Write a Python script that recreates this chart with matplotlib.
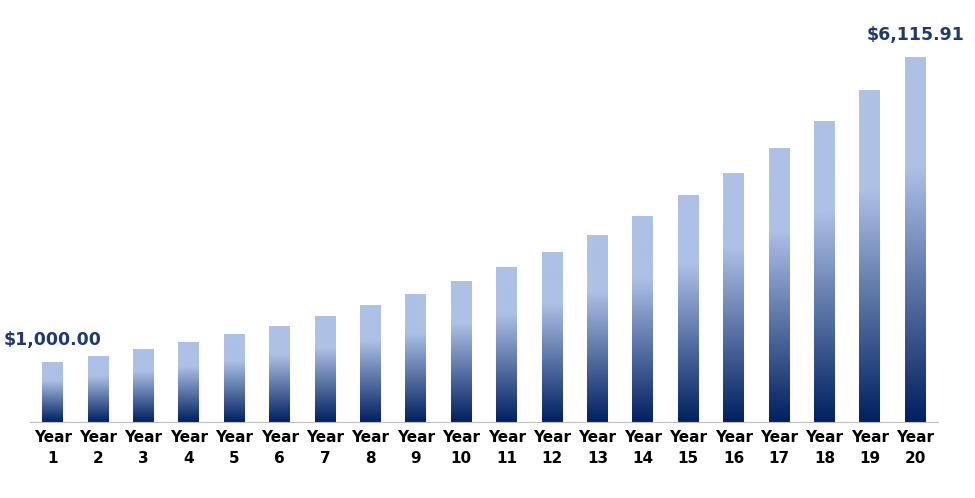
import matplotlib
matplotlib.use("Agg")
import matplotlib.pyplot as plt
import numpy as np
from matplotlib.colors import LinearSegmentedColormap

years = [f"Year\n{i}" for i in range(1, 21)]
values = [1000.00, 1100.00, 1210.00, 1331.00, 1464.10, 1610.51, 1771.56, 1948.72,
          2143.59, 2357.95, 2593.74, 2853.12, 3138.43, 3452.27, 3797.50, 4177.25,
          4594.97, 5054.47, 5559.92, 6115.91]

fig = plt.figure(figsize=(9.75, 4.98), dpi=100)
ax = fig.add_axes([30/975, 76/498, 908/975, 387/498])
cmap = LinearSegmentedColormap.from_list("g", [(0, "#002060"), (0.7, "#adc0e6"), (1, "#adc0e6")])
grad = np.linspace(0, 1, 256).reshape(-1, 1)
w = 0.46
x = np.arange(len(values))
for xi, v in zip(x, values):
    ax.imshow(grad, cmap=cmap, origin="lower", aspect="auto",
              extent=[xi - w/2, xi + w/2, 0, v], zorder=2)
ax.set_xlim(-0.5, len(values) - 0.5)
ax.set_ylim(0, 6500)
ax.set_xticks(x)
ax.set_xticklabels(years, fontsize=11, fontweight="bold", family="DejaVu Sans", linespacing=1.5)
ax.tick_params(axis="x", length=0, pad=6)
ax.set_yticks([])
for s in ["top", "right", "left"]:
    ax.spines[s].set_visible(False)
ax.spines["bottom"].set_color("#bfbfbf")
ax.text(0, values[0] + 230, "$1,000.00", ha="center", va="bottom", fontsize=12.5,
        fontweight="bold", color="#1f3a6e")
ax.text(x[-1], values[-1] + 230, "$6,115.91", ha="center", va="bottom", fontsize=12.5,
        fontweight="bold", color="#1f3a6e")
fig.savefig("out.png", dpi=100)
